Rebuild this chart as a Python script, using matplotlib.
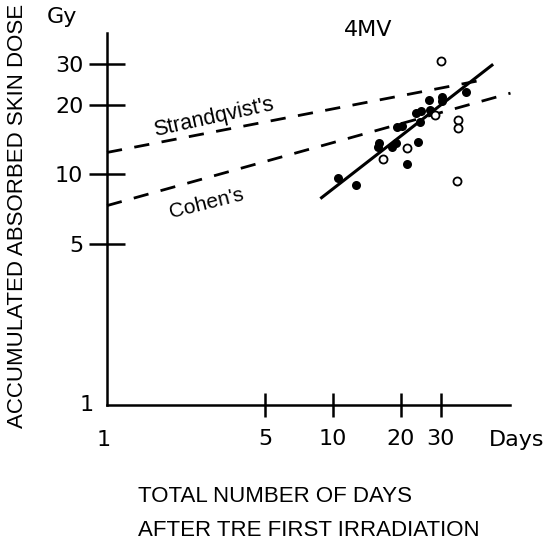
import matplotlib
matplotlib.use('Agg')
import matplotlib.pyplot as plt

# filled points: days, dose (Gy)
filled_days = [10.5, 12.6, 15.8, 16.0, 18.2, 19.0, 21.3, 23.8, 19.2, 20.2,
               23.3, 24.5, 24.3, 26.6, 26.9, 30.4, 30.4, 38.8]
filled_dose = [9.6, 8.96, 13.1, 13.6, 13.1, 13.6, 11.0, 13.8, 16.0, 16.1,
               18.4, 18.7, 16.8, 20.9, 18.9, 21.5, 20.7, 22.6]

# open points
open_days = [16.6, 21.3, 28.3, 30.0, 35.7, 35.7, 35.4]
open_dose = [11.6, 13.0, 18.0, 30.9, 17.1, 15.8, 9.3]

# lines (endpoints on log-log axes)
strand_x = [1.0, 48.5]
strand_y = [12.4, 25.8]
cohen_x = [1.0, 61.0]
cohen_y = [7.3, 22.4]
fit_x = [8.9, 50.5]
fit_y = [7.9, 29.6]

xticks = [5, 10, 20, 30]
yticks = [5, 10, 20, 30]

W, H = 550, 545
fig = plt.figure(figsize=(W / 100, H / 100), dpi=100)
ax = fig.add_axes([107 / W, 1 - 405 / H, 403 / W, 372 / H])
ax.set_xscale('log')
ax.set_yscale('log')
ax.set_xlim(1, 60.7)
ax.set_ylim(1, 40.8)

ax.plot(strand_x, strand_y, color='black', lw=2, dashes=(5.5, 4.5), clip_on=False)
ax.plot(cohen_x, cohen_y, color='black', lw=2, dashes=(5.5, 4.5), clip_on=False)
ax.plot(fit_x, fit_y, color='black', lw=2.2, clip_on=False)
ax.plot(filled_days, filled_dose, 'o', color='black', ms=6.5, mew=0, clip_on=False)
ax.plot(open_days, open_dose, 'o', mfc='white', mec='black', ms=5.8, mew=1.3,
        clip_on=False)

for s in ['top', 'right']:
    ax.spines[s].set_visible(False)
for s in ['left', 'bottom']:
    ax.spines[s].set_linewidth(1.8)

ax.minorticks_off()
ax.set_xticks(xticks)
ax.set_yticks(yticks)
ax.set_xticklabels([str(t) for t in xticks])
ax.set_yticklabels([str(t) for t in yticks])
ax.tick_params(axis='y', direction='inout', length=26, width=1.8, pad=4,
               labelsize=16)
ax.tick_params(axis='x', direction='inout', length=17, width=1.8, pad=9,
               labelsize=16)

def ftext(px, py, s, **kw):
    fig.text(px / W, 1 - py / H, s, **kw)

ftext(87, 405, '1', fontsize=16, ha='center', va='center')
ftext(104, 440, '1', fontsize=16, ha='center', va='center')
ftext(62, 17, 'Gy', fontsize=16, ha='center', va='center')
ftext(517, 440, 'Days', fontsize=16, ha='center', va='center')
ftext(368, 30, '4MV', fontsize=16, ha='center', va='center')
ftext(18, 216, 'ACCUMULATED ABSORBED SKIN DOSE', fontsize=16,
      family='Liberation Sans', rotation=90, ha='center', va='center')
ftext(138, 496, 'TOTAL NUMBER OF DAYS', fontsize=16, family='Liberation Sans',
      ha='left', va='center')
ftext(138, 530, 'AFTER TRE FIRST IRRADIATION', fontsize=16,
      family='Liberation Sans', ha='left', va='center')
ftext(214, 117, "Strandqvist's", fontsize=15.5, family='Liberation Sans',
      rotation=12.5, ha='center', va='center')
ftext(207, 203, "Cohen's", fontsize=15, family='Liberation Sans',
      rotation=14, ha='center', va='center')

fig.savefig('out.png', dpi=100)
